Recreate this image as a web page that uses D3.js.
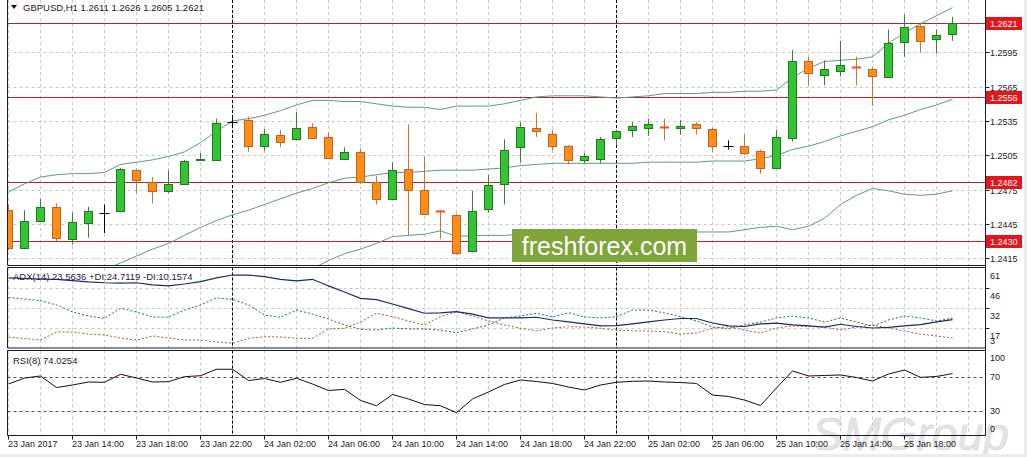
<!DOCTYPE html>
<html><head><meta charset="utf-8">
<script src="https://cdn.jsdelivr.net/npm/d3@7"></script>
<style>body{margin:0;background:#fff}svg{display:block}text{font-family:"Liberation Sans",Arial,sans-serif}</style>
</head><body><svg id="c" width="1027" height="457"></svg>
<script>
// ---------- DATA ----------
const title = "GBPUSD,H1 1.2611 1.2626 1.2605 1.2621";
const adxTitle = "ADX(14) 23.5636 +DI:24.7119 -DI:10.1574";
const rsiTitle = "RSI(8) 74.0254";

const open  = [1.2457,1.2424,1.2448,1.2460,1.2432,1.2446,1.2455,1.2456,1.2492,1.2482,1.2474,1.2480,1.2501,1.2501,1.2534,1.2536,1.2513,1.2523,1.2519,1.2530,1.2521,1.2502,1.2508,1.2482,1.2467,1.2493,1.2475,1.2456,1.2453,1.2421,1.2458,1.2480,1.2512,1.2529,1.2524,1.2513,1.2501,1.2502,1.2520,1.2527,1.2529,1.2530,1.2529,1.2532,1.2528,1.2513,1.2513,1.2509,1.2494,1.2520,1.2587,1.2575,1.2579,1.2582,1.2580,1.2573,1.2604,1.2618,1.2607,1.2611];
const high  = [1.2462,1.2457,1.2467,1.2463,1.2455,1.2460,1.2462,1.2494,1.2493,1.2486,1.2492,1.2501,1.2507,1.2537,1.2538,1.2539,1.2528,1.2527,1.2543,1.2533,1.2525,1.2512,1.2511,1.2487,1.2499,1.2532,1.2504,1.2457,1.2454,1.2474,1.2488,1.2519,1.2534,1.2542,1.2527,1.2514,1.2507,1.2521,1.2527,1.2534,1.2537,1.2537,1.2536,1.2534,1.2529,1.2518,1.2523,1.2510,1.2527,1.2597,1.2591,1.2588,1.2605,1.2591,1.2582,1.2615,1.2628,1.2620,1.2615,1.2626];
const low   = [1.2422,1.2423,1.2447,1.2430,1.2427,1.2433,1.2437,1.2455,1.2472,1.2463,1.2472,1.2480,1.2500,1.2500,1.2529,1.2508,1.2509,1.2512,1.2518,1.2519,1.2502,1.2501,1.2480,1.2462,1.2466,1.2435,1.2453,1.2432,1.2418,1.2420,1.2455,1.2462,1.2499,1.2521,1.2509,1.2497,1.2498,1.2498,1.2514,1.2521,1.2522,1.2518,1.2523,1.2523,1.2508,1.2510,1.2505,1.2489,1.2493,1.2517,1.2566,1.2566,1.2574,1.2566,1.2548,1.2573,1.2591,1.2595,1.2594,1.2605];
const close = [1.2424,1.2448,1.2460,1.2433,1.2447,1.2456,1.2455,1.2493,1.2483,1.2474,1.2480,1.2500,1.2502,1.2533,1.2534,1.2513,1.2524,1.2517,1.2529,1.2520,1.2503,1.2508,1.2482,1.2467,1.2492,1.2475,1.2454,1.2455,1.2420,1.2456,1.2479,1.2510,1.2530,1.2526,1.2513,1.2501,1.2504,1.2519,1.2526,1.2531,1.2532,1.2529,1.2531,1.2529,1.2513,1.2513,1.2507,1.2494,1.2521,1.2587,1.2577,1.2580,1.2584,1.2581,1.2574,1.2603,1.2617,1.2605,1.2610,1.2621];

const bbUpper = [1.2473,1.2480,1.2486,1.2488,1.2489,1.2489,1.2490,1.2497,1.2499,1.2501,1.2504,1.2508,1.2516,1.2526,1.2535,1.2537,1.2540,1.2544,1.2549,1.2553,1.2553,1.2552,1.2552,1.2550,1.2548,1.2547,1.2547,1.2545,1.2548,1.2548,1.2548,1.2550,1.2553,1.2556,1.2557,1.2557,1.2557,1.2556,1.2555,1.2556,1.2557,1.2559,1.2559,1.2559,1.2560,1.2560,1.2561,1.2561,1.2562,1.2573,1.2581,1.2587,1.2588,1.2589,1.2591,1.2603,1.2612,1.2620,1.2627,1.2634];
const bbMiddle = [null,null,null,null,null,null,1.2405,1.2411,1.2417,1.2423,1.2428,1.2435,1.2442,1.2448,1.2453,1.2457,1.2462,1.2467,1.2472,1.2476,1.2481,1.2485,1.2486,1.2488,1.2490,1.2490,1.2491,1.2492,1.2492,1.2492,1.2493,1.2494,1.2496,1.2497,1.2498,1.2498,1.2498,1.2498,1.2498,1.2498,1.2499,1.2499,1.2499,1.2499,1.2500,1.2500,1.2500,1.2502,1.2505,1.2510,1.2513,1.2517,1.2522,1.2526,1.2530,1.2536,1.2540,1.2545,1.2549,1.2554];
const bbLower = [null,null,null,null,null,null,null,null,null,null,null,null,null,null,null,null,null,null,null,1.2406,1.2413,1.2419,1.2423,1.2428,1.2434,1.2435,1.2436,1.2439,1.2434,1.2435,1.2435,1.2435,1.2436,1.2436,1.2436,1.2437,1.2437,1.2437,1.2437,1.2437,1.2438,1.2438,1.2438,1.2438,1.2438,1.2438,1.2440,1.2442,1.2443,1.2440,1.2443,1.2450,1.2462,1.2470,1.2476,1.2474,1.2471,1.2470,1.2471,1.2474];

const levels = [1.2621,1.2556,1.2482,1.2430];
const priceTicks = [1.2595,1.2565,1.2535,1.2505,1.2475,1.2445,1.2415];

const adx = [53.8,53.4,53.0,52.7,51.9,50.9,50.3,50.1,50.3,48.7,48.0,49.4,51.1,53.8,55.9,55.9,54.8,52.7,51.6,52.8,48.0,43.6,39.0,38.1,34.9,31.6,28.2,28.4,29.3,27.6,24.8,24.8,24.8,25.3,23.3,21.9,20.5,19.0,19.2,20.5,21.9,23.3,24.4,24.4,21.1,19.0,18.6,20.5,21.1,19.7,19.0,18.2,20.2,18.6,17.5,17.9,19.0,20.0,21.9,23.56];
const plusDI = [39.6,38.5,37.3,34.2,29.1,26.2,24.5,31.8,29.1,25.5,25.3,30.5,34.2,39.3,38.3,34.2,26.9,25.3,30.5,27.6,24.0,19.7,16.6,16.0,17.5,16.8,16.8,16.0,14.1,16.8,19.7,24.8,26.2,28.2,25.5,28.6,25.5,24.8,25.7,30.5,30.5,28.4,25.8,22.6,18.2,16.8,19.7,21.8,24.8,26.2,24.8,21.8,24.8,21.8,19.0,23.3,26.2,24.8,22.6,24.71];
const minusDI = [10.8,9.9,8.8,14.6,14.6,13.1,12.4,10.3,8.8,11.7,10.3,8.8,8.8,7.4,6.4,10.0,11.2,11.0,10.0,10.0,16.8,17.3,21.8,28.2,25.7,22.6,19.7,25.7,29.3,26.2,22.6,19.7,17.3,15.5,17.5,18.4,18.2,17.3,16.0,15.5,15.3,14.8,13.1,13.9,17.3,18.4,16.0,13.9,17.5,19.0,18.6,18.2,16.0,18.2,19.7,17.5,15.3,13.1,11.7,10.16];
const adxTickValues = [61,46.5,32,17.5,3];
const adxTickLabels = ["61","46","32","17","3"];

const rsi = [61.8,68.8,71.2,57.6,60.6,64.1,63.8,73.2,68.8,64.1,64.5,70.4,71.5,79.1,79.1,65.9,68.2,63.8,68.5,61.8,54.1,55.5,42.4,36.2,49.4,44.1,37.6,36.2,28.0,44.1,52.4,61.2,66.5,64.7,62.4,58.2,54.7,60.6,63.8,64.9,65.3,64.1,63.5,62.4,48.8,47.1,42.9,36.5,57.1,77.1,71.2,71.8,72.4,69.4,65.3,73.5,78.2,69.6,70.6,74.03];
const rsiTicks = [100,70,30,0];
const rsiLevels = [70,30];

const timeLabels = ["23 Jan 2017","23 Jan 14:00","23 Jan 18:00","23 Jan 22:00","24 Jan 02:00","24 Jan 06:00","24 Jan 10:00","24 Jan 14:00","24 Jan 18:00","24 Jan 22:00","25 Jan 02:00","25 Jan 06:00","25 Jan 10:00","25 Jan 14:00","25 Jan 18:00"];
const timeLabelBars = [0,4,8,12,16,20,24,28,32,36,40,44,48,52,56];
const daySeparatorBars = [14,38];
const gridBars = d3.range(0,61,2);

// ---------- LAYOUT ----------
const svg = d3.select("#c");
const L = 7.5, R = 985.5;
const P = {main:[0,265.5], adx:[267.5,348], rsi:[350.5,435.5]};
const x = d3.scaleLinear().domain([0,59]).range([8.5,952.5]);
const y = d3.scaleLinear().domain([1.2415,1.2595]).range([258.3,52.3]);
const ya = d3.scaleLinear().domain([3,61]).range([348,268]);
const yr = d3.scaleLinear().domain([0,100]).range([436.5,351.5]);
const px = v => Math.round(v)+0.5;
const font = 9;

const defs = svg.append("defs");
Object.entries(P).forEach(([k,[t,b]])=>{
  defs.append("clipPath").attr("id","clip-"+k).append("rect")
    .attr("x",L).attr("y",t).attr("width",R-L).attr("height",b-t);
});

svg.append("rect").attr("width",1027).attr("height",457).attr("fill","#fff");

// watermark (behind everything)
svg.append("text").attr("x",812).attr("y",450).text("SMGroup")
  .attr("font-size",46).attr("font-style","italic").attr("fill","#e4e4e4")
  .attr("stroke","#d4d4d4").attr("stroke-width",0.5);

const gMain = svg.append("g").attr("clip-path","url(#clip-main)");
const gAdx = svg.append("g").attr("clip-path","url(#clip-adx)");
const gRsi = svg.append("g").attr("clip-path","url(#clip-rsi)");

// vertical grid
[[gMain,P.main],[gAdx,P.adx],[gRsi,P.rsi]].forEach(([g,[t,b]])=>{
  g.selectAll(null).data(gridBars).join("line")
    .attr("x1",d=>x(d)).attr("x2",d=>x(d)).attr("y1",t).attr("y2",b)
    .attr("stroke","#c8c8c8").attr("stroke-dasharray","3,3");
});
gMain.selectAll(null).data(priceTicks).join("line")
  .attr("x1",L).attr("x2",R).attr("y1",d=>px(y(d))).attr("y2",d=>px(y(d)))
  .attr("stroke","#c8c8c8").attr("stroke-dasharray","3,3");
gAdx.selectAll(null).data(adxTickValues.slice(1,4)).join("line")
  .attr("x1",L).attr("x2",R).attr("y1",d=>px(ya(d))).attr("y2",d=>px(ya(d)))
  .attr("stroke","#c8c8c8").attr("stroke-dasharray","3,3");

// day separators
[[gMain,P.main],[gAdx,P.adx],[gRsi,P.rsi]].forEach(([g,[t,b]])=>{
  g.selectAll(null).data(daySeparatorBars).join("line")
    .attr("x1",d=>x(d)).attr("x2",d=>x(d)).attr("y1",t).attr("y2",b)
    .attr("stroke","#000").attr("stroke-dasharray","3,2");
});

// levels
gMain.selectAll(null).data(levels).join("line")
  .attr("x1",L).attr("x2",R).attr("y1",d=>px(y(d))).attr("y2",d=>px(y(d)))
  .attr("stroke","#b3262a").attr("stroke-width",1.2);

// bollinger
const bbLine = arr => d3.line().defined(d=>d!=null).x((d,i)=>x(i)).y(d=>y(d))(arr);
[bbUpper,bbMiddle,bbLower].forEach(arr=>{
  gMain.append("path").attr("d",bbLine(arr)).attr("fill","none")
    .attr("stroke","#5f9a86").attr("stroke-width",1);
});

// candles
const bars = open.map((o,i)=>({i,o,h:high[i],l:low[i],c:close[i]}));
bars.forEach(b=>{
  const cx = x(b.i);
  const bull = b.c > b.o, doji = b.c === b.o;
  const tiny = !bull && !doji && (b.o-b.c) < 0.00015;
  const wickCol = doji ? "#000" : bull ? "#3d7d3d" : "#c0773a";
  gMain.append("line").attr("x1",cx).attr("x2",cx)
    .attr("y1",y(b.h)).attr("y2",y(b.l)).attr("stroke",wickCol);
  if (doji) {
    gMain.append("line").attr("x1",cx-5).attr("x2",cx+5)
      .attr("y1",px(y(b.o))).attr("y2",px(y(b.o))).attr("stroke","#000");
    return;
  }
  const yt = px(y(Math.max(b.o,b.c))), yb = px(y(Math.min(b.o,b.c)));
  if (tiny) {
    gMain.append("rect").attr("x",cx-4.5).attr("y",yt-1).attr("width",9).attr("height",2)
      .attr("fill","#ff4a1a");
    return;
  }
  gMain.append("rect").attr("x",cx-4).attr("y",yt).attr("width",8).attr("height",Math.max(yb-yt,1))
    .attr("fill",bull?"#33c333":"#ff8c1a")
    .attr("stroke",bull?"#1f7a1f":"#c0651a").attr("stroke-width",1);
});

// ADX lines
const aLine = arr => d3.line().x((d,i)=>x(i)).y(d=>ya(d))(arr);
gAdx.append("path").attr("d",aLine(plusDI)).attr("fill","none").attr("stroke","#2f6b3a").attr("stroke-dasharray","2,2");
gAdx.append("path").attr("d",aLine(minusDI)).attr("fill","none").attr("stroke","#b5523b").attr("stroke-dasharray","2,2");
gAdx.append("path").attr("d",aLine(adx)).attr("fill","none").attr("stroke","#1c2a6b").attr("stroke-width",1.2);

// RSI
gRsi.selectAll(null).data(rsiLevels).join("line")
  .attr("x1",L).attr("x2",R).attr("y1",d=>px(yr(d))).attr("y2",d=>px(yr(d)))
  .attr("stroke","#8f3b2f").attr("stroke-dasharray","3,3");
gRsi.append("path").attr("d",d3.line().x((d,i)=>x(i)).y(d=>yr(d))(rsi))
  .attr("fill","none").attr("stroke","#111").attr("stroke-width",1);

// panel borders
const border = "#1b1b2b";
[P.main,P.adx,P.rsi].forEach(([t,b])=>{
  svg.append("line").attr("x1",L).attr("x2",R).attr("y1",b).attr("y2",b).attr("stroke",border);
  if (t>0) svg.append("line").attr("x1",L).attr("x2",R).attr("y1",t).attr("y2",t).attr("stroke",border);
  svg.append("line").attr("x1",L).attr("x2",L).attr("y1",t).attr("y2",b).attr("stroke",border);
});
svg.append("line").attr("x1",R).attr("x2",R).attr("y1",0).attr("y2",P.rsi[1]).attr("stroke",border);

// price axis
const txt = (sel)=>sel.attr("font-size",font).attr("fill","#1a1a1a");
priceTicks.forEach(v=>{
  const yy = px(y(v));
  svg.append("line").attr("x1",R).attr("x2",R+4).attr("y1",yy).attr("y2",yy).attr("stroke",border);
  svg.append("text").attr("x",990).attr("y",yy).attr("dy","0.35em").text(v.toFixed(4)).call(txt);
});
levels.forEach(v=>{
  const yy = px(y(v));
  svg.append("rect").attr("x",986).attr("y",yy-6.5).attr("width",36).attr("height",13).attr("fill","#e3161c");
  svg.append("text").attr("x",990).attr("y",yy).attr("dy","0.35em").text(v.toFixed(4))
    .attr("font-size",font).attr("fill","#fff");
});
adxTickValues.forEach((v,i)=>{
  const yy = px(ya(v));
  if (i>0 && i<4) svg.append("line").attr("x1",R).attr("x2",R+4).attr("y1",yy).attr("y2",yy).attr("stroke",border);
  const cy = Math.min(Math.max(yy+7, P.adx[0]+7), P.adx[1]-7);
  svg.append("text").attr("x",990).attr("y",cy).attr("dy","0.35em").text(adxTickLabels[i]).call(txt);
});
rsiTicks.forEach(v=>{
  const yy = yr(v);
  const cy = Math.min(Math.max(yy, P.rsi[0]+7), P.rsi[1]-7);
  svg.append("text").attr("x",990).attr("y",cy).attr("dy","0.35em").text(String(v)).call(txt);
});
timeLabelBars.forEach((b,i)=>{
  const xx = x(b);
  svg.append("line").attr("x1",xx).attr("x2",xx).attr("y1",P.rsi[1]).attr("y2",P.rsi[1]+4).attr("stroke",border);
  svg.append("text").attr("x",xx-0.5).attr("y",447).text(timeLabels[i]).call(txt);
});

// headers
svg.append("path").attr("d","M11,5 L17,5 L14,9 Z").attr("fill","#111");
svg.append("text").attr("x",23).attr("y",11).text(title).attr("font-size",9.5).attr("fill","#1a1a1a");
svg.append("text").attr("x",13).attr("y",280).text(adxTitle).attr("font-size",9.5).attr("fill","#1a1a40");
svg.append("text").attr("x",13).attr("y",363.5).text(rsiTitle).attr("font-size",9.5).attr("fill","#1a1a1a");

// freshforex badge
svg.append("rect").attr("x",512).attr("y",229).attr("width",185).attr("height",33).attr("fill","#7fa53b");
svg.append("text").attr("x",604.5).attr("y",255).attr("text-anchor","middle").text("freshforex.com")
  .attr("font-family","'Open Sans',sans-serif").attr("font-size",25).attr("fill","#fff");

// outer frame
svg.append("rect").attr("x",0).attr("y",454).attr("width",1027).attr("height",3).attr("fill","#ececec");
svg.append("rect").attr("x",1024).attr("y",0).attr("width",3).attr("height",457).attr("fill","#ececec");
</script></body></html>
